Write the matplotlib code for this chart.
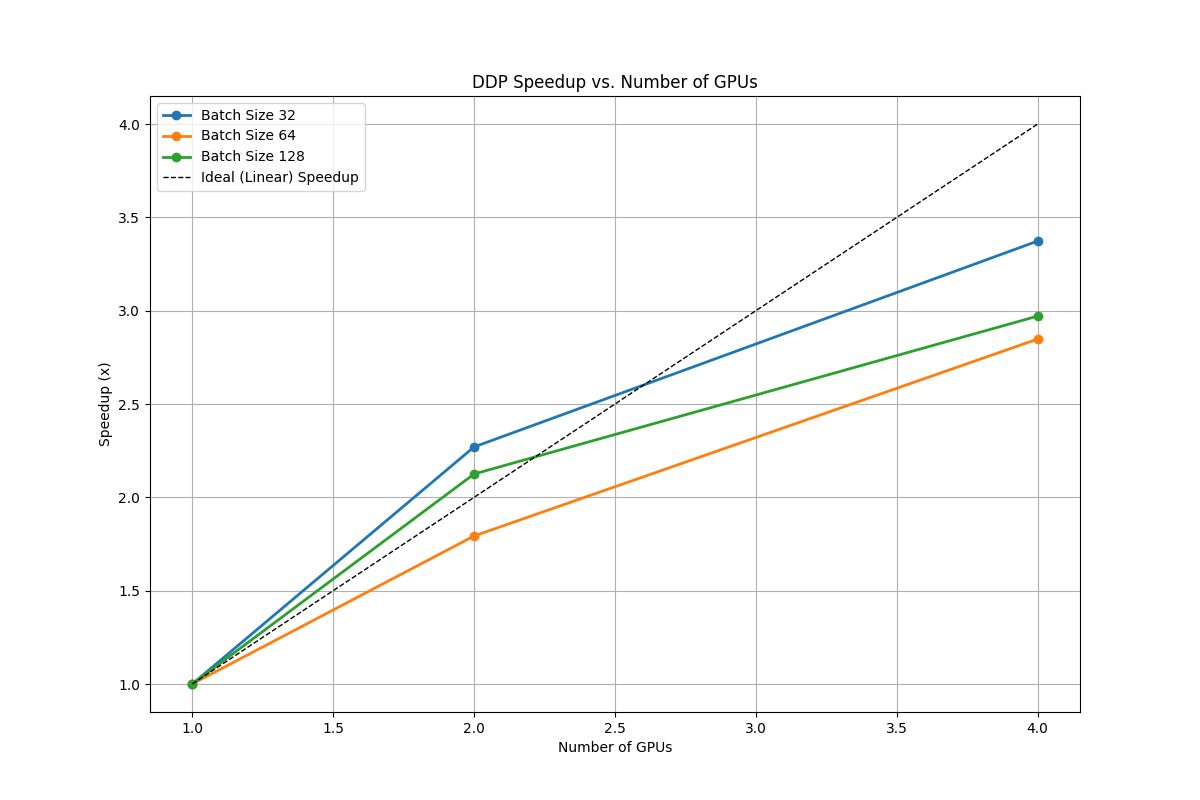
import matplotlib
matplotlib.use("Agg")
import matplotlib.pyplot as plt

# speedup data
num_gpus = [1, 2, 4]
speedup_bs32 = [1.0, 2.27, 3.373]
speedup_bs64 = [1.0, 1.793, 2.848]
speedup_bs128 = [1.0, 2.125, 2.971]
ideal_speedup = [1, 2, 4]

fig, ax = plt.subplots(figsize=(12, 8), dpi=100)

ax.plot(num_gpus, speedup_bs32, marker='o', linewidth=2, label='Batch Size 32')
ax.plot(num_gpus, speedup_bs64, marker='o', linewidth=2, label='Batch Size 64')
ax.plot(num_gpus, speedup_bs128, marker='o', linewidth=2, label='Batch Size 128')
ax.plot(num_gpus, ideal_speedup, 'k--', linewidth=1, label='Ideal (Linear) Speedup')

ax.set_title('DDP Speedup vs. Number of GPUs')
ax.set_xlabel('Number of GPUs')
ax.set_ylabel('Speedup (x)')
ax.grid(True)
ax.legend(loc='upper left')

fig.savefig('out.png')
